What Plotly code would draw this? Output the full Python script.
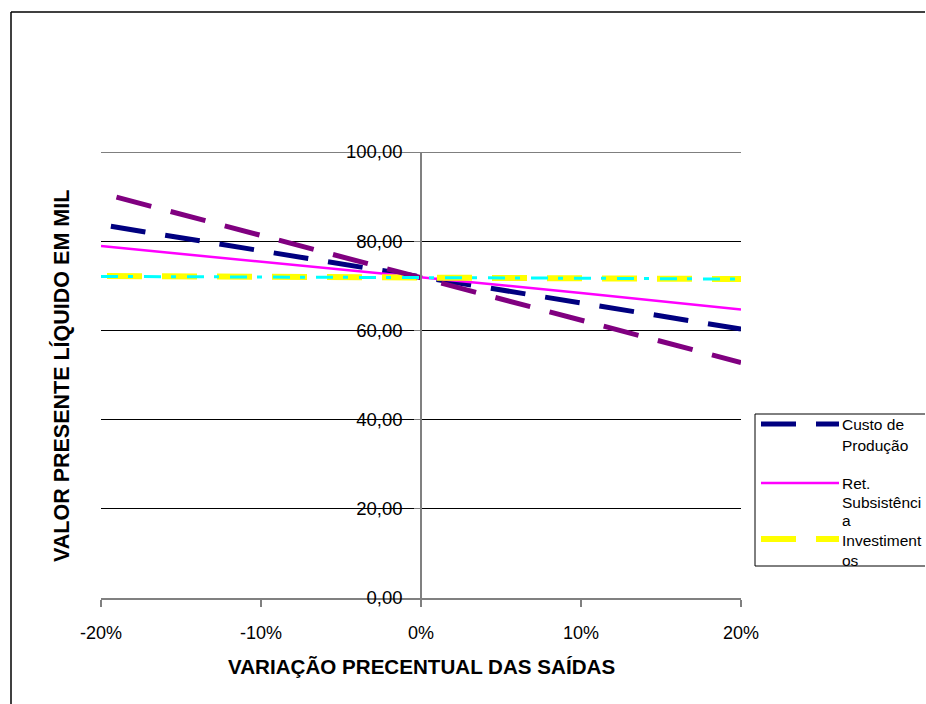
import plotly.graph_objects as go

# ---- data ----
variacao = [-20, -10, 0, 10, 20]            # % variation of outflows
x_tick_labels = ["-20%", "-10%", "0%", "10%", "20%"]
y_ticks = [0, 20, 40, 60, 80, 100]

custo_producao = [83.7, 77.8, 71.9, 66.1, 60.3]
ret_subsistencia = [78.9, 75.4, 71.9, 68.4, 64.7]
investimentos = [72.2, 72.0, 71.9, 71.7, 71.5]
serie_4 = [90.8, 81.3, 71.9, 62.4, 52.8]      # legend entry cut off in the original
serie_5 = [72.1, 72.0, 71.9, 71.7, 71.5]      # legend entry cut off in the original

FONT = "Liberation Sans, Arial, sans-serif"

# plot-area geometry in pixels (for paper-coordinate conversions of decorations)
W, H = 926, 704
L, R, T, B = 101, 741, 152, 598
def px(x):
    return (x - L) / (R - L)
def py(y):
    return (B - y) / (B - T)

fig = go.Figure()

series = [
    ("Custo de Produção", custo_producao, dict(color="#000080", width=5, dash="0px,10px,35px,10px")),
    ("Ret. Subsistência", ret_subsistencia, dict(color="#FF00FF", width=2.5)),
    ("Investimentos", investimentos, dict(color="#FFFF00", width=6, dash="0px,6px,35px,14px")),
    ("Série 4", serie_4, dict(color="#800080", width=5, dash="0px,16px,36px,4px")),
    ("Série 5", serie_5, dict(color="#00FFFF", width=3, dash="17px,10px,5px,11px")),
]
for name, vals, line in series:
    fig.add_trace(go.Scatter(x=variacao, y=vals, mode="lines", name=name,
                             line=line, showlegend=False, hoverinfo="skip"))

fig.update_layout(
    width=W, height=H,
    margin=dict(l=L, r=W - R, t=T, b=H - B, pad=0),
    paper_bgcolor="white", plot_bgcolor="white",
    separators=",.",
    font=dict(family=FONT, color="black"),
    showlegend=False,
    xaxis=dict(range=[-20, 20], tickvals=variacao, ticktext=x_tick_labels,
               showgrid=False, zeroline=False, showline=True, linecolor="#808080", linewidth=1.5,
               ticks="outside", ticklen=7, tickcolor="#808080", tickwidth=1.5,
               tickfont=dict(size=18, family=FONT), ticklabelstandoff=11),
    yaxis=dict(range=[0, 100], tickvals=y_ticks, tickformat=".2f",
               anchor="free", position=0.5,
               showgrid=True, gridcolor="black", gridwidth=1, zeroline=False,
               showline=True, linecolor="#808080", linewidth=1.5,
               ticks="outside", ticklen=6, tickcolor="#808080",
               tickfont=dict(size=18.5, family=FONT), ticklabelstandoff=8),
)

shapes = []
# top gridline (plotly omits the gridline at the range edge)
shapes.append(dict(type="line", xref="paper", yref="y", x0=0, x1=1, y0=100, y1=100,
                   line=dict(color="black", width=1), layer="below"))
# outer chart frame: only top and left edges are visible in the picture
shapes.append(dict(type="line", xref="paper", yref="paper", x0=px(11), x1=px(925), y0=py(12), y1=py(12),
                   line=dict(color="black", width=1.5)))
shapes.append(dict(type="line", xref="paper", yref="paper", x0=px(11), x1=px(11), y0=py(704), y1=py(12),
                   line=dict(color="black", width=1.5)))
# legend box (right edge falls outside the picture)
for (xa, ya, xb, yb) in [(755, 414, 925, 414), (755, 566, 925, 566), (755, 414, 755, 566)]:
    shapes.append(dict(type="line", xref="paper", yref="paper", x0=px(xa), x1=px(xb), y0=py(ya), y1=py(yb),
                       line=dict(color="black", width=1)))

# legend samples
legend_samples = [
    (424, dict(color="#000080", width=5, dash="35px,20px")),
    (483, dict(color="#FF00FF", width=2.5)),
    (539, dict(color="#FFFF00", width=6, dash="35px,20px")),
]
for ly, line in legend_samples:
    shapes.append(dict(type="line", xref="paper", yref="paper",
                       x0=px(761), x1=px(839), y0=py(ly), y1=py(ly), line=line, layer="above"))

# legend text lines (wrapped as in the original)
legend_lines = [
    ("Custo de", 424), ("Produção", 445),
    ("Ret.", 483), ("Subsistênci", 502), ("a", 520),
    ("Investiment", 540),
]
annotations = []
for text, ty in legend_lines:
    annotations.append(dict(text=text, xref="paper", yref="paper", x=px(841), y=py(ty),
                            xanchor="left", yanchor="middle", align="left", showarrow=False,
                            borderpad=0, font=dict(size=15.5, family=FONT, color="black")))
# last wrapped line, cut by the bottom of the legend box
annotations.append(dict(text="os", xref="paper", yref="paper", x=px(841), y=py(551),
                        xanchor="left", yanchor="top", valign="top", align="left", showarrow=False,
                        height=15, borderpad=0, font=dict(size=15.5, family=FONT, color="black")))

# axis titles
annotations.append(dict(text="<b>VARIAÇÃO PRECENTUAL DAS SAÍDAS</b>", xref="paper", yref="paper",
                        x=0.5, y=py(666), xanchor="center", yanchor="middle", showarrow=False,
                        font=dict(size=20.6, family=FONT, color="black")))
annotations.append(dict(text="<b>VALOR PRESENTE LÍQUIDO EM MIL</b>", xref="paper", yref="paper",
                        x=px(61), y=py(376), xanchor="center", yanchor="middle", showarrow=False,
                        textangle=-90, font=dict(size=21.5, family=FONT, color="black")))

fig.update_layout(shapes=shapes, annotations=annotations)

fig.write_html("out.html")
